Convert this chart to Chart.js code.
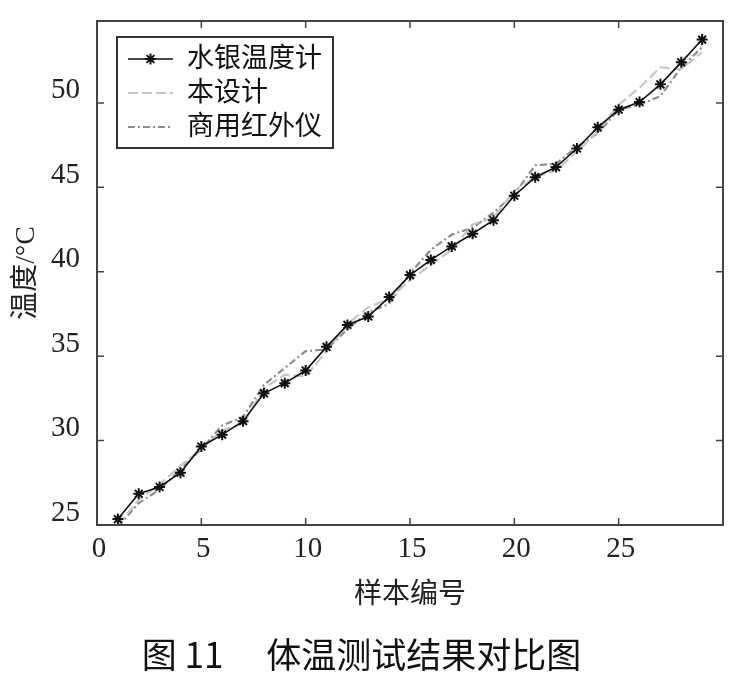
<!DOCTYPE html>
<html>
<head>
<meta charset="utf-8">
<script src="https://cdn.jsdelivr.net/npm/chart.js@4.4.1/dist/chart.umd.min.js"></script>
<style>
  html, body { margin: 0; padding: 0; background: #fff; }
  canvas { display: block; }
</style>
</head>
<body>
<canvas id="chart" width="732" height="677"></canvas>
<script>
// sample number on x, temperature (°C) on y
const sampleNo = [1,2,3,4,5,6,7,8,9,10,11,12,13,14,15,16,17,18,19,20,21,22,23,24,25,26,27,28,29];
const mercury = [25.35,26.85,27.25,28.1,29.65,30.35,31.15,32.8,33.4,34.15,35.55,36.85,37.35,38.5,39.8,40.7,41.5,42.25,43.05,44.5,45.6,46.2,47.3,48.55,49.6,50.05,51.1,52.4,53.75];
const thisDesign = [25.0,26.5,27.4,28.5,29.5,30.6,31.0,33.1,33.9,33.8,35.3,36.9,37.9,38.4,39.5,40.4,41.3,42.8,43.2,44.8,45.6,46.0,47.1,48.3,49.9,50.9,52.1,52.0,53.0];
const infrared = [24.9,26.3,27.1,28.3,29.5,30.9,31.4,33.3,34.3,35.3,35.4,36.6,37.6,38.1,39.9,41.3,42.2,42.6,43.5,44.6,46.3,46.4,47.4,48.2,49.6,49.9,50.4,52.1,53.3];
const seriesNames = ['水银温度计', '本设计', '商用红外仪'];
const xTicks = [0, 5, 10, 15, 20, 25];
const yTicks = [25, 30, 35, 40, 45, 50];

const SERIF = '"Liberation Serif", "Noto Sans CJK SC", serif';
const AXIS = '#444';

const toXY = (ys) => ys.map((v, i) => ({ x: sampleNo[i], y: v }));

function drawStar(ctx, x, y, r, w, color){
  ctx.save();
  ctx.strokeStyle = color;
  ctx.lineWidth = w;
  ctx.beginPath();
  for (let k = 0; k < 4; k++){
    const a = k * Math.PI / 4;
    ctx.moveTo(x - r * Math.cos(a), y - r * Math.sin(a));
    ctx.lineTo(x + r * Math.cos(a), y + r * Math.sin(a));
  }
  ctx.stroke();
  ctx.restore();
}

// box frame + inward ticks, matlab style
const frame = {
  id: 'frame',
  afterDatasetsDraw(chart){
    const { ctx, chartArea: a, scales: { x, y } } = chart;
    ctx.save();
    ctx.strokeStyle = AXIS;
    ctx.lineWidth = 2;
    ctx.strokeRect(a.left, a.top, a.right - a.left, a.bottom - a.top);
    ctx.lineWidth = 1.5;
    ctx.beginPath();
    xTicks.forEach(v => {
      const px = x.getPixelForValue(v);
      ctx.moveTo(px, a.bottom); ctx.lineTo(px, a.bottom - 7);
      ctx.moveTo(px, a.top); ctx.lineTo(px, a.top + 7);
    });
    yTicks.forEach(v => {
      const py = y.getPixelForValue(v);
      ctx.moveTo(a.left, py); ctx.lineTo(a.left + 7, py);
      ctx.moveTo(a.right, py); ctx.lineTo(a.right - 7, py);
    });
    ctx.stroke();
    ctx.restore();
  }
};

const boxLegend = {
  id: 'boxLegend',
  afterDraw(chart){
    const ctx = chart.ctx;
    const x0 = 117, y0 = 37, w = 216, h = 111;
    const rows = [59, 93, 127];
    ctx.save();
    ctx.fillStyle = '#fff';
    ctx.fillRect(x0, y0, w, h);
    ctx.strokeStyle = '#333';
    ctx.lineWidth = 2;
    ctx.strokeRect(x0, y0, w, h);
    chart.data.datasets.forEach((ds, i) => {
      const yy = rows[i];
      ctx.strokeStyle = ds.borderColor;
      ctx.lineWidth = ds.borderWidth;
      ctx.setLineDash(ds.borderDash || []);
      ctx.beginPath();
      ctx.moveTo(128, yy);
      ctx.lineTo(173, yy);
      ctx.stroke();
      ctx.setLineDash([]);
      if (ds.pointRadius > 0) drawStar(ctx, 150.5, yy, ds.pointRadius, ds.pointBorderWidth, ds.pointBorderColor);
      ctx.fillStyle = '#111';
      ctx.font = '27px ' + SERIF;
      ctx.textBaseline = 'middle';
      ctx.textAlign = 'left';
      ctx.fillText(seriesNames[i], 187, yy + 1);
    });
    ctx.restore();
  }
};

new Chart(document.getElementById('chart'), {
  type: 'line',
  data: {
    datasets: [
      {
        label: seriesNames[0],
        data: toXY(mercury),
        borderColor: '#111',
        borderWidth: 1.6,
        pointStyle: 'star',
        pointRadius: 5.5,
        pointBorderWidth: 2,
        pointBorderColor: '#111',
        pointBackgroundColor: '#111',
        tension: 0
      },
      {
        label: seriesNames[1],
        data: toXY(thisDesign),
        borderColor: '#c6c6c6',
        borderWidth: 2.2,
        borderDash: [10, 4],
        pointRadius: 0,
        tension: 0
      },
      {
        label: seriesNames[2],
        data: toXY(infrared),
        borderColor: '#8c8c8c',
        borderWidth: 2.2,
        borderDash: [7, 3, 2, 3],
        pointRadius: 0,
        tension: 0
      }
    ]
  },
  options: {
    responsive: false,
    animation: false,
    devicePixelRatio: 1,
    layout: { padding: { top: 21, right: 9, left: 0, bottom: 0 } },
    plugins: {
      legend: { display: false },
      tooltip: { enabled: false },
      title: {
        display: true,
        position: 'bottom',
        text: '图 11\u3000 体温测试结果对比图',
        color: '#111',
        font: { family: '"Noto Sans CJK SC", sans-serif', size: 35, weight: 'normal', lineHeight: 1.2 },
        padding: { top: 0, bottom: 1 }
      }
    },
    scales: {
      x: {
        type: 'linear',
        min: 0,
        max: 30,
        afterBuildTicks: (s) => { s.ticks = xTicks.map(v => ({ value: v })); },
        afterFit: (s) => { s.height = 109; s.paddingLeft = 0; s.paddingRight = 0; },
        grid: { display: false, drawTicks: false, tickLength: 0 },
        border: { display: false },
        ticks: {
          color: '#222',
          padding: 7,
          labelOffset: 2,
          maxRotation: 0,
          font: { family: SERIF, size: 29 }
        },
        title: {
          display: true,
          text: '样本编号',
          color: '#222',
          font: { family: SERIF, size: 28 },
          padding: { top: 0, bottom: 22 }
        }
      },
      y: {
        type: 'linear',
        min: 25,
        max: 54.85,
        afterBuildTicks: (s) => { s.ticks = yTicks.map(v => ({ value: v })); },
        afterFit: (s) => { s.width = 97; s.paddingTop = 0; s.paddingBottom = 0; },
        grid: { display: false, drawTicks: false, tickLength: 0 },
        border: { display: false },
        ticks: {
          color: '#222',
          padding: 17,
          labelOffset: -12,
          font: { family: SERIF, size: 29 }
        },
        title: {
          display: true,
          text: '温度/°C',
          color: '#222',
          font: { family: SERIF, size: 28 },
          padding: { top: 10, bottom: 0 }
        }
      }
    }
  },
  plugins: [frame, boxLegend]
});
</script>
</body>
</html>
